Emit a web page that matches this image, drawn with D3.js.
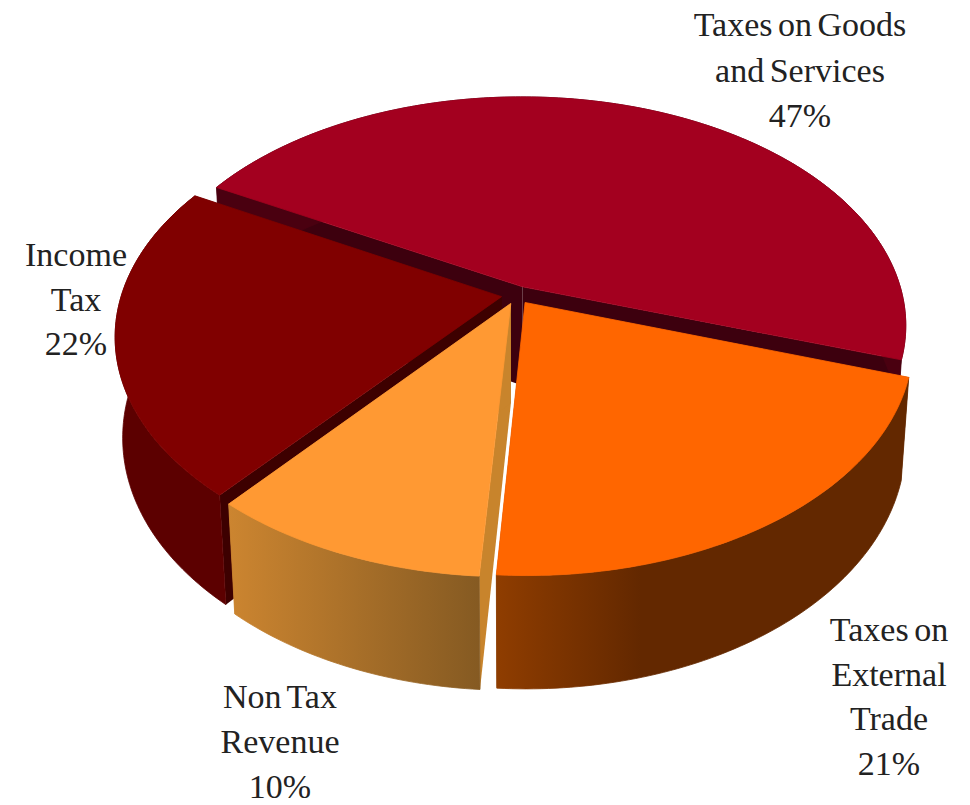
<!DOCTYPE html>
<html>
<head>
<meta charset="utf-8">
<script src="https://cdnjs.cloudflare.com/ajax/libs/d3/7.8.5/d3.min.js"></script>
<style>
  html, body { margin: 0; padding: 0; background: #fff; }
  svg { display: block; }
  text { font-family: "Liberation Serif", serif; font-size: 34px; word-spacing: -3px; fill: #222; text-anchor: middle; }
</style>
</head>
<body>
<svg id="chart" width="970" height="805"></svg>
<script>
// Revenue composition, drawn as an exploded perspective pie.
const categories = ["Taxes on Goods and Services", "Taxes on External Trade", "Non Tax Revenue", "Income Tax"];
const shares = [47, 21, 10, 22];
const labelLines = [
  ["Taxes on Goods", "and Services", "47%"],
  ["Taxes on", "External", "Trade", "21%"],
  ["Non Tax", "Revenue", "10%"],
  ["Income", "Tax", "22%"]
];
const paletteByCategory = {
  "Taxes on Goods and Services": { top: "#a3001f", cut: "#3d000e", wall: ["#4a0010", "#4a0010"], fade: 1 },
  "Taxes on External Trade": { top: "#ff6600", cut: "#642800", wall: ["#8f3d00", "#632800"], fade: 0.35 },
  "Non Tax Revenue": { top: "#ff9933", cut: "#c8842c", wall: ["#cc8530", "#855a22"], fade: 1 },
  "Income Tax": { top: "#800000", cut: "#3d0000", wall: ["#5c0000", "#5c0000"], fade: 1 }
};
// Back-to-front painting order of the slices.
const paintOrder = [0, 3, 1, 2];

const svg = d3.select("#chart");
const defs = svg.append("defs");

// Camera model for the disc: unit radius, seen from above with perspective.
const cam = { cx: 516.5, cy: 295, fx: 380, fy: 224.4, depth: 0.168, drop: 0.0186, height: 101 };
const explode = 0.04;

function project(X, Z, isBottom) {
  const w = 1 + cam.depth * Z + (isBottom ? cam.drop : 0);
  return [
    cam.cx + cam.fx * X / w,
    cam.cy + (-cam.fy * Z + (isBottom ? cam.height : 0)) / w
  ];
}

const arcs = d3.pie().sort(null)
  .startAngle(-61 * Math.PI / 180)
  .endAngle(299 * Math.PI / 180)(shares);

const line = d3.line();

arcs.forEach((a, i) => { a.category = categories[i]; a.lines = labelLines[i]; });

function rimPoints(a, ox, oz, isBottom) {
  const n = Math.ceil((a.endAngle - a.startAngle) * 60);
  return d3.range(n + 1).map(k => {
    const t = a.startAngle + (a.endAngle - a.startAngle) * k / n;
    return project(ox + Math.sin(t), oz + Math.cos(t), isBottom);
  });
}

paintOrder.forEach(idx => {
  const a = arcs[idx];
  const colors = paletteByCategory[a.category];
  const mid = (a.startAngle + a.endAngle) / 2;
  const ox = explode * Math.sin(mid);
  const oz = explode * Math.cos(mid);

  const topRim = rimPoints(a, ox, oz, false);
  const botRim = rimPoints(a, ox, oz, true);
  const apexTop = project(ox, oz, false);
  const apexBot = project(ox, oz, true);

  const g = svg.append("g").attr("class", "slice").attr("data-category", a.category);

  // Two radial cut faces.
  g.append("path")
    .attr("d", line([apexTop, topRim[0], botRim[0], apexBot]) + "Z")
    .attr("fill", colors.cut);
  g.append("path")
    .attr("d", line([apexTop, topRim[topRim.length - 1], botRim[botRim.length - 1], apexBot]) + "Z")
    .attr("fill", colors.cut);

  // Outer wall, shaded across its horizontal extent.
  const xs = d3.extent(topRim.concat(botRim), p => p[0]);
  const gradId = "wall-" + idx;
  const grad = defs.append("linearGradient").attr("id", gradId)
    .attr("gradientUnits", "userSpaceOnUse")
    .attr("x1", xs[0]).attr("x2", xs[1]).attr("y1", 0).attr("y2", 0);
  grad.append("stop").attr("offset", 0).attr("stop-color", colors.wall[0]);
  grad.append("stop").attr("offset", colors.fade).attr("stop-color", colors.wall[1]);
  g.append("path")
    .attr("d", line(topRim.concat(botRim.slice().reverse())) + "Z")
    .attr("fill", `url(#${gradId})`)
    .attr("stroke", `url(#${gradId})`)
    .attr("stroke-width", 0.8);

  // Top surface; the thin stroke closes the seam against the wall.
  g.append("path")
    .attr("d", line([apexTop].concat(topRim)) + "Z")
    .attr("fill", colors.top)
    .attr("stroke", colors.top)
    .attr("stroke-width", 0.8);
});

// Labels sit outside the disc, next to their slices.
const labelPlacement = [
  { x: 800, y: 36, step: 45.5 },
  { x: 889, y: 641, step: 44.5 },
  { x: 280, y: 708, step: 45 },
  { x: 76, y: 266, step: 44.5 }
];
arcs.forEach((a, i) => {
  const place = labelPlacement[i];
  const t = svg.append("text").attr("x", place.x).attr("y", place.y);
  a.lines.forEach((s, k) => {
    t.append("tspan").attr("x", place.x).attr("y", place.y + k * place.step).text(s);
  });
});
</script>
</body>
</html>
